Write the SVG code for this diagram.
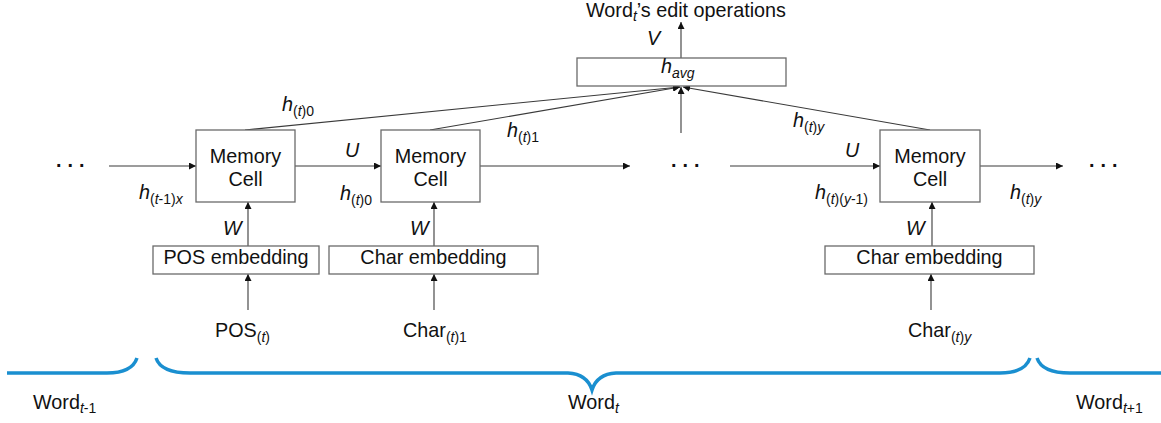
<svg xmlns="http://www.w3.org/2000/svg" width="1161" height="423" viewBox="0 0 1161 423">
<style>
text{font-family:"Liberation Sans",Arial,sans-serif;font-size:19.8px;fill:#111}
.i{font-style:italic}
.s{font-size:14px}
.box{fill:#fff;stroke:#6a6a6a;stroke-width:1.3}
.ar{stroke:#3a3a3a;stroke-width:1.1;fill:none;marker-end:url(#ah)}
.br{stroke:#1a8fd0;stroke-width:3.5;fill:none;stroke-linecap:butt}
.m{text-anchor:middle}
.d{letter-spacing:6px;font-weight:bold}
</style>
<defs>
<marker id="ah" viewBox="0 0 10 10" refX="10" refY="5" markerWidth="7" markerHeight="7" markerUnits="userSpaceOnUse" orient="auto">
<path d="M0,0 L10,5 L0,10 z" fill="#111"/>
</marker>
</defs>

<g id="connectors">
<line class="ar" x1="681" y1="58" x2="681" y2="22"/>
<line class="ar" x1="245" y1="130" x2="680" y2="87"/>
<line class="ar" x1="430" y1="130" x2="680" y2="87"/>
<line class="ar" x1="681" y1="133" x2="681" y2="87"/>
<line class="ar" x1="930" y1="130" x2="683" y2="87"/>
<line class="ar" x1="109" y1="166" x2="196" y2="166"/>
<line class="ar" x1="295" y1="166" x2="381" y2="166"/>
<line class="ar" x1="480" y1="166" x2="630" y2="166"/>
<line class="ar" x1="730" y1="166" x2="880" y2="166"/>
<line class="ar" x1="980" y1="166" x2="1063" y2="166"/>
<line class="ar" x1="248" y1="246" x2="248" y2="202"/>
<line class="ar" x1="434" y1="246" x2="434" y2="202"/>
<line class="ar" x1="932" y1="246" x2="932" y2="202"/>
<line class="ar" x1="248" y1="310" x2="248" y2="274"/>
<line class="ar" x1="434" y1="310" x2="434" y2="274"/>
<line class="ar" x1="931" y1="310" x2="931" y2="274"/>
</g>

<g id="title"><text x="586" y="17">Word<tspan class="s i" dy="4">t</tspan><tspan dy="-4">’s edit operations</tspan></text></g>
<text class="i" x="647" y="45">V</text>

<g id="havg">
<rect class="box" x="577" y="58" width="209" height="28"/>
<text x="661" y="73"><tspan class="i">h</tspan><tspan class="s i" dy="5">avg</tspan></text>
</g>

<g id="cell1">
<rect class="box" x="196" y="130" width="99" height="72"/>
<text class="m" x="245.5" y="163">Memory</text>
<text class="m" x="245.5" y="186">Cell</text>
</g>
<g id="cell2">
<rect class="box" x="381" y="130" width="99" height="72"/>
<text class="m" x="430.5" y="163">Memory</text>
<text class="m" x="430.5" y="186">Cell</text>
</g>
<g id="cell3">
<rect class="box" x="880" y="130" width="100" height="72"/>
<text class="m" x="930" y="163">Memory</text>
<text class="m" x="930" y="186">Cell</text>
</g>

<g id="posemb">
<rect class="box" x="153" y="246" width="166" height="28"/>
<text class="m" x="236" y="264">POS embedding</text>
</g>
<g id="charemb1">
<rect class="box" x="329" y="246" width="209" height="28"/>
<text class="m" x="433.5" y="264">Char embedding</text>
</g>
<g id="charemb2">
<rect class="box" x="825" y="246" width="209" height="28"/>
<text class="m" x="929.5" y="264">Char embedding</text>
</g>

<g id="dots">
<text class="d" x="56" y="167">...</text>
<text class="d" x="671" y="167">...</text>
<text class="d" x="1089" y="167">...</text>
</g>

<g id="labels">
<text x="282" y="111"><tspan class="i">h</tspan><tspan class="s" dy="5">(<tspan class="i">t</tspan>)0</tspan></text>
<text x="139" y="199"><tspan class="i">h</tspan><tspan class="s" dy="5">(<tspan class="i">t</tspan>-1)<tspan class="i">x</tspan></tspan></text>
<text class="i" x="345" y="157">U</text>
<text x="340" y="200"><tspan class="i">h</tspan><tspan class="s" dy="5">(<tspan class="i">t</tspan>)0</tspan></text>
<text x="507" y="137"><tspan class="i">h</tspan><tspan class="s" dy="5">(<tspan class="i">t</tspan>)1</tspan></text>
<text x="793" y="127"><tspan class="i">h</tspan><tspan class="s" dy="5">(<tspan class="i">t</tspan>)<tspan class="i">y</tspan></tspan></text>
<text class="i" x="845" y="157">U</text>
<text x="815" y="199"><tspan class="i">h</tspan><tspan class="s" dy="5">(<tspan class="i">t</tspan>)(<tspan class="i">y</tspan>-1)</tspan></text>
<text x="1010" y="199"><tspan class="i">h</tspan><tspan class="s" dy="5">(<tspan class="i">t</tspan>)<tspan class="i">y</tspan></tspan></text>
<text class="i" x="223" y="235">W</text>
<text class="i" x="410" y="235">W</text>
<text class="i" x="906" y="235">W</text>
<text x="215" y="337">POS<tspan class="s" dy="5">(<tspan class="i">t</tspan>)</tspan></text>
<text x="403" y="337">Char<tspan class="s" dy="5">(<tspan class="i">t</tspan>)1</tspan></text>
<text x="908" y="337">Char<tspan class="s" dy="5">(<tspan class="i">t</tspan>)<tspan class="i">y</tspan></tspan></text>
</g>

<g id="braces">
<path class="br" d="M7,373 H107 Q132,373 137,358"/>
<path class="br" d="M156,358 Q161,373 190,373 H568 Q587,374 592,390 Q597,374 616,373 H1000 Q1025,373 1030,358"/>
<path class="br" d="M1037,358 Q1042,373 1070,373 H1161"/>
</g>

<g id="wordlabels">
<text x="33" y="409">Word<tspan class="s i" dy="4">t</tspan><tspan class="s">-1</tspan></text>
<text x="568" y="409">Word<tspan class="s i" dy="4">t</tspan></text>
<text x="1076" y="409">Word<tspan class="s i" dy="4">t</tspan><tspan class="s">+1</tspan></text>
</g>
</svg>
